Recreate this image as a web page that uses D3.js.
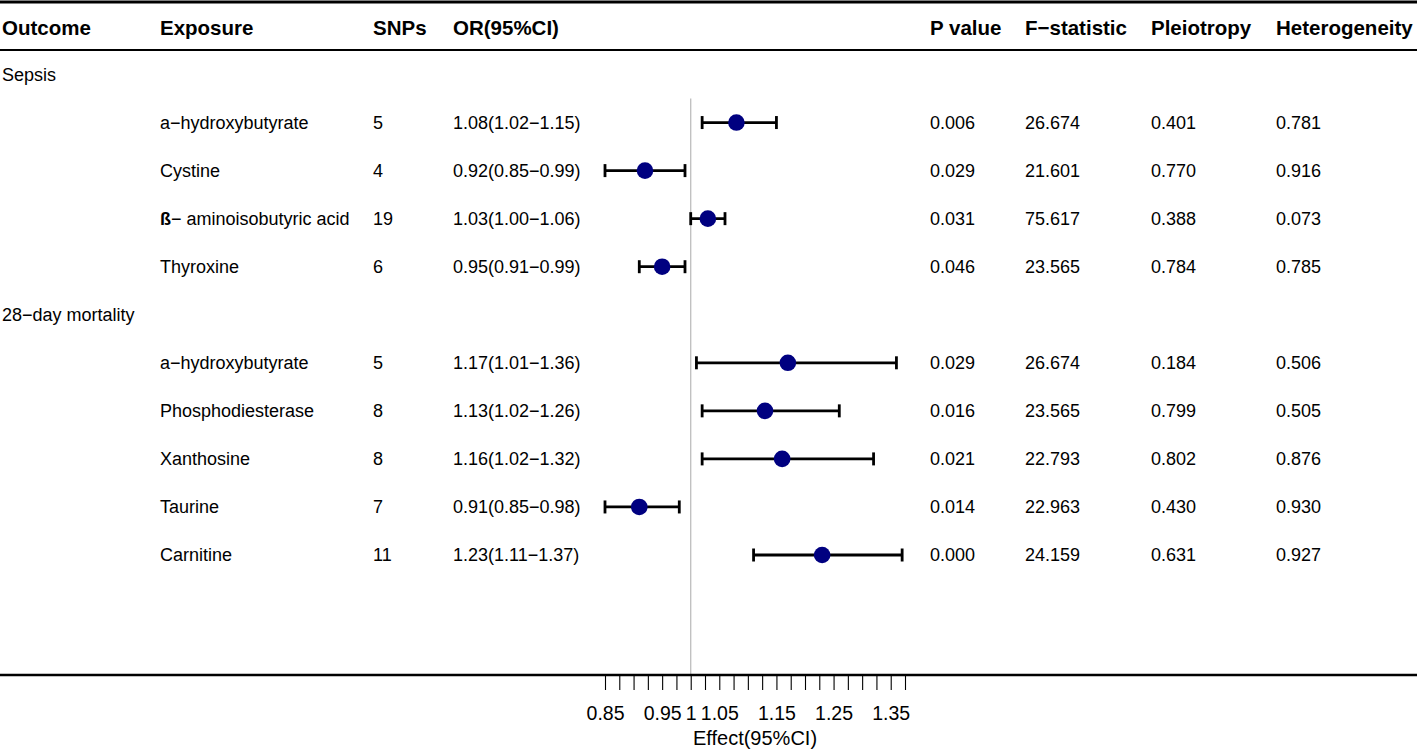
<!DOCTYPE html>
<html>
<head>
<meta charset="utf-8">
<script src="https://cdn.jsdelivr.net/npm/d3@7"></script>
<style>
  html, body { margin: 0; padding: 0; background: #fff; }
  svg { display: block; font-family: "Liberation Sans", Arial, Helvetica, sans-serif; }
</style>
</head>
<body>
<svg id="chart" width="1417" height="750"></svg>
<script>
// ---- data ----
const headers = ["Outcome", "Exposure", "SNPs", "OR(95%CI)", "P value", "F\u2212statistic", "Pleiotropy", "Heterogeneity"];
const outcomes = ["Sepsis", "28\u2212day mortality"];
const outcomeOf = [0, 0, 0, 0, 1, 1, 1, 1, 1];
const exposures = ["a\u2212hydroxybutyrate", "Cystine", "\u00DF\u2212 aminoisobutyric acid", "Thyroxine",
                   "a\u2212hydroxybutyrate", "Phosphodiesterase", "Xanthosine", "Taurine", "Carnitine"];
const snps = [5, 4, 19, 6, 5, 8, 8, 7, 11];
const orEst = [1.08, 0.92, 1.03, 0.95, 1.17, 1.13, 1.16, 0.91, 1.23];
const orLow = [1.02, 0.85, 1.00, 0.91, 1.01, 1.02, 1.02, 0.85, 1.11];
const orHigh = [1.15, 0.99, 1.06, 0.99, 1.36, 1.26, 1.32, 0.98, 1.37];
const pValues = ["0.006", "0.029", "0.031", "0.046", "0.029", "0.016", "0.021", "0.014", "0.000"];
const fStats = ["26.674", "21.601", "75.617", "23.565", "26.674", "23.565", "22.793", "22.963", "24.159"];
const pleiotropy = ["0.401", "0.770", "0.388", "0.784", "0.184", "0.799", "0.802", "0.430", "0.631"];
const heterogeneity = ["0.781", "0.916", "0.073", "0.785", "0.506", "0.505", "0.876", "0.930", "0.927"];
const tickLabels = [0.85, 0.95, 1, 1.05, 1.15, 1.25, 1.35];
const axisTitle = "Effect(95%CI)";

// ---- layout ----
const W = 1417, H = 750;
const svg = d3.select("#chart");
const colX = [2, 160, 373, 453, 930, 1025, 1151, 1276];
const bodyFont = 18, headFont = 20.5, axisFont = 19.5;
const navy = "#000080";

// build row list: group label rows then item rows
const rows = [];
outcomes.forEach((o, g) => {
  rows.push({ type: "group", label: o });
  exposures.forEach((e, i) => { if (outcomeOf[i] === g) rows.push({ type: "item", i }); });
});
const y = d3.scaleLinear().domain([0, rows.length - 1]).range([74.5, 74.5 + 48.05 * (rows.length - 1)]);
const x = d3.scaleLinear().domain([0.85, 1.375]).range([605, 905]);

const axisY = 675;

// horizontal rules
svg.append("line").attr("x1", 0).attr("x2", W).attr("y1", 2).attr("y2", 2)
  .attr("stroke", "#000").attr("stroke-width", 3);
svg.append("line").attr("x1", 0).attr("x2", W).attr("y1", 50).attr("y2", 50)
  .attr("stroke", "#000").attr("stroke-width", 2);

// header
svg.append("g").selectAll("text").data(headers).join("text")
  .attr("x", (d, k) => colX[k]).attr("y", 27)
  .attr("dominant-baseline", "central")
  .attr("font-size", headFont).attr("font-weight", "bold").attr("fill", "#000")
  .text(d => d);

// reference line
svg.append("line").attr("x1", x(1)).attr("x2", x(1))
  .attr("y1", y(1) - 24).attr("y2", axisY)
  .attr("stroke", "#bdbdbd").attr("stroke-width", 1.3);

// table body
const body = svg.append("g").attr("font-size", bodyFont).attr("fill", "#000");
rows.forEach((r, ri) => {
  const yy = y(ri);
  if (r.type === "group") {
    body.append("text").attr("x", colX[0]).attr("y", yy).attr("dominant-baseline", "central").text(r.label);
    return;
  }
  const i = r.i;
  const ex = body.append("text").attr("x", colX[1]).attr("y", yy).attr("dominant-baseline", "central");
  const name = exposures[i];
  if (name.startsWith("\u00DF")) {
    ex.append("tspan").attr("font-weight", "bold").text("\u00DF");
    ex.append("tspan").text(name.slice(1));
  } else {
    ex.text(name);
  }
  const vals = [String(snps[i]),
    orEst[i].toFixed(2) + "(" + orLow[i].toFixed(2) + "\u2212" + orHigh[i].toFixed(2) + ")",
    pValues[i], fStats[i], pleiotropy[i], heterogeneity[i]];
  vals.forEach((v, k) => {
    body.append("text").attr("x", colX[k + 2]).attr("y", yy).attr("dominant-baseline", "central").text(v);
  });
});

// forest marks
const items = rows.map((r, ri) => ({ r, ri })).filter(d => d.r.type === "item");
const marks = svg.append("g");
items.forEach(({ r, ri }) => {
  const i = r.i, yy = y(ri);
  marks.append("line").attr("x1", x(orLow[i])).attr("x2", x(orHigh[i]))
    .attr("y1", yy).attr("y2", yy).attr("stroke", "#000").attr("stroke-width", 2.8);
  [orLow[i], orHigh[i]].forEach(v => {
    marks.append("line").attr("x1", x(v)).attr("x2", x(v))
      .attr("y1", yy - 6.5).attr("y2", yy + 6.5).attr("stroke", "#000").attr("stroke-width", 2.8);
  });
  marks.append("circle").attr("cx", x(orEst[i])).attr("cy", yy).attr("r", 8.3).attr("fill", navy);
});

// bottom axis line (full width)
svg.append("line").attr("x1", 0).attr("x2", W).attr("y1", axisY).attr("y2", axisY)
  .attr("stroke", "#000").attr("stroke-width", 2.5);

// axis ticks
const tickVals = d3.range(0, 22).map(k => 0.85 + k * 0.025);
const isLabel = v => tickLabels.some(t => Math.abs(t - v) < 1e-9);
const axis = d3.axisBottom(x).tickValues(tickVals).tickSizeInner(14).tickSizeOuter(0).tickPadding(16)
  .tickFormat(v => isLabel(v) ? String(+v.toFixed(3)) : "");
const ag = svg.append("g").attr("transform", `translate(0,${axisY + 1})`).call(axis);
ag.select(".domain").remove();
ag.selectAll(".tick line").attr("stroke", "#000").attr("stroke-width", 1.1);
ag.selectAll(".tick text").attr("font-size", axisFont).attr("fill", "#000")
  .attr("font-family", "'Liberation Sans', Arial, sans-serif");

// axis title
svg.append("text").attr("x", (x.range()[0] + x.range()[1]) / 2).attr("y", 745)
  .attr("text-anchor", "middle")
  .attr("font-size", 20).attr("fill", "#000").text(axisTitle);
</script>
</body>
</html>
